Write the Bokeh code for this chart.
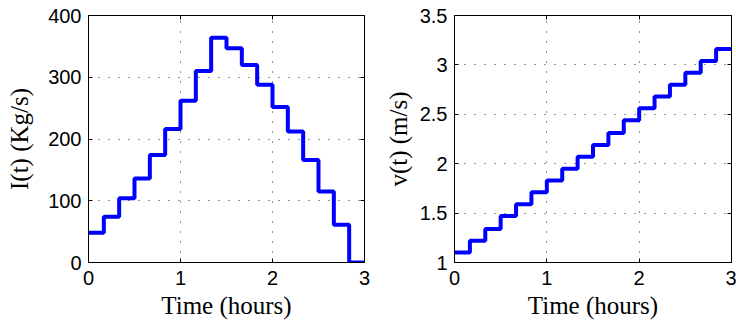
from bokeh.plotting import figure
from bokeh.models import Range1d, LinearAxis, FixedTicker, CustomLabelingPolicy
from bokeh.layouts import row
from bokeh.embed import file_html
from bokeh.resources import INLINE

# Data (step values, each held for 1/6 hour)
time_h = [0.0, 0.1667, 0.3333, 0.5, 0.6667, 0.8333, 1.0, 1.1667, 1.3333,
          1.5, 1.6667, 1.8333, 2.0, 2.1667, 2.3333, 2.5, 2.6667, 2.8333, 3.0]
flow_I = [48, 74, 104, 136, 174, 216, 262, 310, 364,
          347, 320, 288, 252, 212, 166, 115, 61, 0]
speed_v = [1.10, 1.22, 1.34, 1.47, 1.59, 1.71, 1.83, 1.95, 2.07,
           2.19, 2.31, 2.44, 2.56, 2.68, 2.80, 2.92, 3.04, 3.16]

x_ticks = [0, 1, 2, 3]
I_ticks = [0, 100, 200, 300, 400]
v_ticks = [1, 1.5, 2, 2.5, 3, 3.5]

TICK_FONT = "Liberation Sans"
LABEL_FONT = "Liberation Serif"

HIDE_LABELS_JS = """
const a = [...indices];
if (typeof indices.unset === "function") {
    for (const i of a) indices.unset(i);
    return indices;
}
return new Set();
"""


def style(p, xt, yt, ylabel, ylabel_standoff):
    p.outline_line_color = "black"
    p.outline_line_width = 1
    p.background_fill_color = "white"
    p.border_fill_color = "white"
    for ax, ticks in ((p.xaxis[0], xt), (p.yaxis[0], yt)):
        ax.ticker = FixedTicker(ticks=ticks)
        ax.major_tick_in = 4
        ax.major_tick_out = 0
        ax.minor_tick_in = 0
        ax.minor_tick_out = 0
        ax.major_tick_line_color = "black"
        ax.axis_line_color = "black"
        ax.major_label_text_font = TICK_FONT
        ax.major_label_text_font_size = "20px"
        ax.major_label_text_color = "black"
        ax.axis_label_text_font = LABEL_FONT
        ax.axis_label_text_font_size = "25px"
        ax.axis_label_text_font_style = "normal"
        ax.axis_label_text_color = "black"
    p.xaxis[0].axis_label = "Time (hours)"
    p.xaxis[0].major_label_standoff = 8
    p.xaxis[0].axis_label_standoff = 4
    p.yaxis[0].axis_label = ylabel
    p.yaxis[0].major_label_standoff = 7
    p.yaxis[0].axis_label_standoff = ylabel_standoff
    # box ticks on top and right (no labels)
    for loc, ticks in (("above", xt), ("right", yt)):
        ax = LinearAxis(ticker=FixedTicker(ticks=ticks))
        ax.major_tick_in = 4
        ax.major_tick_out = 0
        ax.minor_tick_in = 0
        ax.minor_tick_out = 0
        ax.major_tick_line_color = "black"
        ax.axis_line_color = "black"
        ax.major_label_policy = CustomLabelingPolicy(code=HIDE_LABELS_JS)
        ax.major_label_text_font_size = "0px"
        ax.major_label_standoff = 0
        p.add_layout(ax, loc)
    for g, ticks in ((p.xgrid[0], xt), (p.ygrid[0], yt)):
        g.ticker = FixedTicker(ticks=ticks)
        g.grid_line_color = "black"
        g.grid_line_alpha = 0.85
        g.grid_line_width = 1
        g.grid_line_dash = "1 9"


p1 = figure(width=380, height=326, output_backend="svg", toolbar_location=None,
            x_range=Range1d(0, 3), y_range=Range1d(0, 400),
            min_border_left=88, min_border_right=16,
            min_border_top=15, min_border_bottom=64)
style(p1, x_ticks, I_ticks, "I(t) (Kg/s)", 12)
p1.step(time_h, flow_I + [flow_I[-1]], mode="after", line_color="#0000ff", line_width=4)

p2 = figure(width=356, height=326, output_backend="svg", toolbar_location=None,
            x_range=Range1d(0, 3), y_range=Range1d(1, 3.5),
            min_border_left=74, min_border_right=5,
            min_border_top=15, min_border_bottom=64)
style(p2, x_ticks, v_ticks, "v(t) (m/s)", 5)
p2.step(time_h, speed_v + [speed_v[-1]], mode="after", line_color="#0000ff", line_width=4)

layout = row(p1, p2)
open("out.html", "w").write(file_html(layout, INLINE))
